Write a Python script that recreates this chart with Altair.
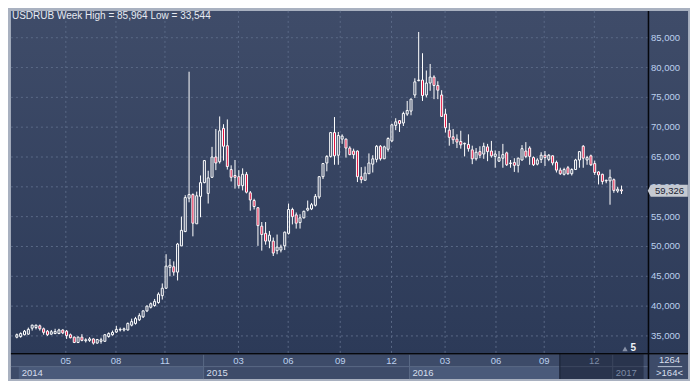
import altair as alt
import pandas as pd

# ---------------- data ----------------
opens = [34.78, 34.9, 35.2, 35.3, 36.3, 36.4, 36.7, 36.2, 35.8, 35.3,
         35.4, 35.4, 36.0, 35.8, 35.2, 34.8, 33.9, 34.8, 34.2, 34.25,
         34.5, 33.8, 34.1, 34.1, 34.9, 35.2, 35.65, 36.0, 36.0, 36.0,
         36.8, 37.1, 37.7, 38.2, 39.2, 39.8, 40.1, 40.6, 41.75, 43.0,
         46.5, 46.6, 45.7, 50.1, 52.5, 58.1, 58.7, 53.8, 58.4, 60.7,
         58.9, 61.6, 65.0, 64.2, 69.8, 66.9, 62.9, 61.9, 61.7, 60.2,
         62.1, 59.0, 57.7, 56.5, 53.4, 52.2, 50.9, 50.9, 49.3, 49.4,
         50.1, 52.2, 56.2, 55.3, 54.0, 54.8, 56.1, 56.3, 56.9, 58.3,
         61.7, 64.0, 65.1, 69.1, 65.3, 68.0, 68.0, 66.5, 66.0, 66.0,
         61.7, 61.1, 62.2, 63.8, 64.6, 66.8, 64.7, 66.3, 67.7, 70.3,
         71.1, 70.7, 72.2, 72.7, 75.4, 77.8, 77.9, 75.4, 77.4, 78.4,
         77.0, 75.4, 72.2, 69.5, 68.4, 68.0, 67.6, 67.2, 67.1, 66.2,
         64.7, 65.9, 65.5, 66.7, 66.0, 65.1, 64.3, 64.8, 65.7, 63.9,
         64.1, 63.6, 64.5, 66.0, 66.5, 64.9, 63.8, 64.6, 65.3, 64.6,
         65.2, 64.1, 62.8, 62.1, 63.2, 62.2, 62.9, 64.5, 66.8, 64.5,
         65.2, 63.9, 62.5, 62.1, 61.0, 61.0, 61.2, 59.3, 59.5]
highs = [35.4, 35.6, 36.0, 36.4, 36.9, 36.9, 36.9, 36.4, 36.0, 36.0,
         36.2, 36.2, 36.1, 36.0, 35.4, 34.9, 34.9, 35.3, 34.6, 34.8,
         34.6, 34.5, 34.7, 35.3, 35.6, 35.9, 36.7, 36.4, 36.4, 37.25,
         37.9, 38.2, 38.8, 39.3, 40.1, 40.6, 41.2, 42.3, 43.8, 48.7,
         47.9, 47.5, 50.6, 55.0, 58.6, 79.3, 58.9, 59.2, 61.9, 64.5,
         62.7, 66.7, 69.7, 71.8, 70.5, 71.3, 63.6, 64.5, 62.8, 63.1,
         62.5, 59.3, 58.0, 56.6, 54.1, 54.1, 52.6, 51.5, 52.0, 50.3,
         52.5, 57.2, 56.5, 55.7, 55.4, 56.0, 57.7, 57.3, 58.8, 61.8,
         64.0, 65.3, 69.2, 71.7, 69.2, 68.8, 68.1, 66.8, 66.4, 66.1,
         63.3, 63.4, 65.6, 65.3, 67.0, 67.0, 66.9, 68.3, 70.6, 71.5,
         71.2, 72.6, 74.4, 74.8, 78.2, 85.964, 82.4, 79.5, 80.6, 78.7,
         77.7, 76.2, 73.1, 70.7, 69.7, 68.8, 69.4, 67.4, 68.8, 66.9,
         66.5, 66.8, 67.4, 67.2, 67.7, 66.1, 66.0, 67.2, 65.9, 64.5,
         64.8, 64.9, 67.0, 67.5, 66.8, 65.1, 64.8, 65.8, 66.0, 65.5,
         65.3, 64.4, 63.2, 63.2, 63.5, 63.1, 64.7, 66.0, 67.0, 65.2,
         65.4, 64.4, 62.6, 62.2, 61.2, 62.9, 61.4, 60.0, 60.2]
lows = [34.6, 34.7, 35.1, 35.2, 35.9, 36.1, 35.9, 35.2, 35.0, 35.2,
        35.3, 35.3, 35.3, 34.5, 34.6, 33.8, 33.8, 34.1, 33.9, 34.0,
        33.544, 33.7, 33.7, 34.0, 34.7, 35.05, 35.5, 35.75, 35.75, 35.9,
        36.6, 36.9, 37.5, 38.0, 39.0, 39.6, 39.9, 40.4, 41.1, 42.9,
        45.0, 45.1, 44.3, 50.1, 52.4, 57.4, 51.7, 53.8, 54.9, 60.6,
        57.2, 61.5, 62.8, 63.9, 64.4, 62.9, 60.9, 59.7, 59.7, 59.4,
        58.9, 56.0, 56.2, 50.1, 49.3, 50.3, 49.7, 48.4, 48.7, 49.0,
        49.4, 52.0, 53.7, 53.0, 53.0, 54.7, 55.9, 56.1, 56.7, 58.0,
        61.3, 62.6, 64.9, 63.7, 63.7, 67.2, 64.9, 65.3, 64.7, 60.8,
        60.6, 61.1, 62.2, 62.4, 64.1, 64.4, 64.7, 65.9, 67.5, 69.5,
        69.2, 70.2, 71.9, 72.0, 74.9, 77.7, 74.4, 75.0, 76.1, 74.7,
        74.7, 71.7, 69.1, 66.9, 67.2, 66.5, 66.4, 65.1, 65.9, 63.8,
        64.4, 64.8, 64.7, 64.3, 64.9, 63.2, 64.2, 63.2, 63.5, 63.2,
        62.5, 62.4, 64.4, 64.8, 63.7, 63.5, 63.6, 64.0, 63.5, 64.3,
        63.6, 62.4, 62.0, 61.9, 62.0, 61.9, 62.9, 63.2, 63.2, 63.7,
        63.5, 62.0, 60.4, 60.4, 60.6, 57.0, 59.0, 59.0, 58.8]
closes = [35.21, 35.4, 35.8, 36.1, 36.8, 36.8, 36.2, 35.6, 35.2, 35.7,
          35.75, 36.0, 35.5, 35.05, 34.7, 33.9, 34.8, 34.25, 34.35, 34.5,
          33.8, 34.4, 34.35, 35.2, 35.4, 35.6, 36.1, 36.1, 36.2, 37.1,
          37.4, 37.9, 38.4, 39.2, 40.0, 40.4, 40.8, 42.0, 43.0, 46.7,
          46.85, 45.7, 50.4, 52.7, 58.2, 58.7, 53.9, 58.5, 60.7, 64.4,
          61.5, 65.0, 64.0, 69.4, 66.8, 63.4, 61.6, 61.6, 60.2, 62.1,
          59.1, 57.8, 56.7, 53.5, 52.0, 50.9, 51.9, 48.9, 49.9, 49.9,
          52.4, 56.2, 55.0, 53.9, 54.8, 55.9, 56.4, 57.0, 58.4, 61.7,
          63.9, 65.1, 69.1, 65.2, 68.6, 68.5, 66.5, 65.4, 65.4, 61.7,
          61.2, 62.3, 64.0, 64.7, 66.8, 64.7, 66.7, 68.1, 70.4, 70.9,
          70.6, 72.3, 72.8, 74.7, 77.6, 77.9, 75.3, 77.4, 78.4, 77.0,
          76.2, 71.8, 69.9, 68.3, 67.9, 67.5, 67.05, 67.3, 66.4, 64.7,
          65.8, 65.3, 66.8, 65.9, 65.2, 65.5, 64.9, 65.4, 63.7, 64.0,
          63.6, 64.8, 66.4, 65.1, 65.1, 63.7, 64.5, 65.3, 64.9, 65.3,
          64.0, 62.8, 62.2, 62.9, 62.2, 62.9, 64.5, 65.9, 64.8, 64.9,
          63.7, 62.4, 62.0, 60.9, 61.1, 61.6, 59.4, 59.6, 59.326]

# bar-index positions of the axis ticks (first bar of the month / year)
month_labels = ["05", "08", "11", "03", "06", "09", "12", "03", "06", "09", "12"]
month_ticks = [13.8, 26.9, 39.7, 58.9, 71.9, 85.5, 98.9, 112.9, 126.2, 138.8, 151.9]
year_labels = ["2014", "2015", "2016", "2017"]
year_starts = [1.5, 49.8, 103.6, 156.7]
price_ticks = [35, 40, 45, 50, 55, 60, 65, 70, 75, 80, 85]
symbol = "USDRUB"
period = "Week"
bar_count_total = "1264"
bar_count_visible = ">164<"
indicator_text = "5"

# ---------------- layout ----------------
W, H = 682, 373
SX, SY = W / 698.0, H / 389.0


def px(x):
    return round(x * SX, 2)


def py(y):
    return round(y * SY, 2)


BAR_STEP = 3.975          # reference pixels per bar
X0 = 1 - 4 / BAR_STEP
X1 = 1 + (698 - 4) / BAR_STEP
PLOT_END = 1 + (655 - 4) / BAR_STEP
NAV_START = 1 + (568 - 4) / BAR_STEP
PPU = 6.22                # reference pixels per rouble
Y1 = 85 + 31 / PPU
Y0 = 85 - (389 - 31) / PPU

xs = alt.Scale(domain=[X0, X1], nice=False, zero=False)
ys = alt.Scale(domain=[Y0, Y1], nice=False, zero=False)

FONT = "Liberation Sans"
LABEL = "#bcd0ee"
RED = "#e3123f"

df = pd.DataFrame({"i": list(range(1, len(opens) + 1)),
                   "o": opens, "h": highs, "l": lows, "c": closes})
one = pd.DataFrame({"a": [0]})


def fmt(v):
    return f"{v:.3f}".replace(".", ",")


title_text = f"{symbol} {period} High = {fmt(max(highs))} Low = {fmt(min(lows))}"

# background of plot + right panel
bg = alt.Chart(one).mark_rect(
    fill=alt.LinearGradient(gradient="linear",
                            stops=[alt.GradientStop(offset=0, color="#3f4c69"),
                                   alt.GradientStop(offset=1, color="#2c3a58")],
                            x1=0, x2=0, y1=0, y2=1)
).encode(x=alt.value(px(3)), x2=alt.value(px(696)), y=alt.value(py(3)), y2=alt.value(py(361)))

band = alt.Chart(one).mark_rect(color="#3d4b69").encode(
    x=alt.value(px(3)), x2=alt.value(px(696)), y=alt.value(py(361)), y2=alt.value(py(387)))

ends = year_starts[1:] + [PLOT_END]
ydf = pd.DataFrame({"s": year_starts, "e": ends, "lab": year_labels,
                    "light": [i % 2 == 0 for i in range(len(year_labels))]})
ydf.loc[ydf["lab"] == "2016", "e"] = NAV_START

year_boxes = alt.Chart(ydf).transform_filter("datum.light").mark_rect(color="#4a5a7a").encode(
    x=alt.X("s:Q", scale=xs, axis=None), x2="e:Q",
    y=alt.value(py(374)), y2=alt.value(py(387)))

row_sep = alt.Chart(one).mark_rule(color="#5a6985", strokeWidth=1).encode(
    x=alt.value(px(3)), x2=alt.value(px(655)), y=alt.value(py(374)))

year_sep = alt.Chart(ydf).transform_filter("datum.s > 5").mark_rule(color="#5a6985").encode(
    x=alt.X("s:Q", scale=xs, axis=None), y=alt.value(py(361)), y2=alt.value(py(387)))

nav = pd.DataFrame({"s": [NAV_START], "e": [PLOT_END]})
overlay = alt.Chart(nav).mark_rect(color="#0a1020", opacity=0.38).encode(
    x=alt.X("s:Q", scale=xs, axis=None), x2="e:Q",
    y=alt.value(py(361)), y2=alt.value(py(387)))
nav_line = alt.Chart(nav).mark_rule(color="#1c2438", strokeWidth=1.2).encode(
    x=alt.X("s:Q", scale=xs, axis=None), y=alt.value(py(361)), y2=alt.value(py(387)))

mdf = pd.DataFrame({"k": month_ticks, "lab": month_labels})
month_text = alt.Chart(mdf).mark_text(font=FONT, fontSize=9.5, baseline="middle").encode(
    x=alt.X("k:Q", scale=xs, axis=None), y=alt.value(py(368.5)), text="lab:N",
    color=alt.condition(f"datum.k > {NAV_START}", alt.value("#7d8ba6"), alt.value(LABEL)))

year_text = alt.Chart(ydf).mark_text(font=FONT, fontSize=9.5, baseline="middle", align="left", dx=3).encode(
    x=alt.X("s:Q", scale=xs, axis=None), y=alt.value(py(380.5)), text="lab:N",
    color=alt.condition(f"datum.s > {NAV_START}", alt.value("#7d8ba6"), alt.value("#d6deec")))

pdf = pd.DataFrame({"v": price_ticks})
hgrid = alt.Chart(pdf).mark_rule(color="#5a6986", strokeDash=[2, 3], strokeWidth=1).encode(
    y=alt.Y("v:Q", scale=ys, axis=None), x=alt.value(px(3)), x2=alt.value(px(655)))
vgrid = alt.Chart(mdf).mark_rule(color="#5a6986", strokeDash=[2, 3], strokeWidth=1).encode(
    x=alt.X("k:Q", scale=xs, axis=None), y=alt.value(py(3)), y2=alt.value(py(360)))

black_h = alt.Chart(one).mark_rule(color="#05070c", strokeWidth=1.5).encode(
    x=alt.value(px(3)), x2=alt.value(px(696)), y=alt.value(py(360.5)))
black_v = alt.Chart(one).mark_rule(color="#05070c", strokeWidth=1.5).encode(
    x=alt.value(px(655.5)), y=alt.value(py(3)), y2=alt.value(py(387)))

base = alt.Chart(df).transform_calculate(
    top="max(datum.o, datum.c)", bot="min(datum.o, datum.c)")
xenc = alt.X("i:Q", scale=xs, axis=None)
wick_up = base.mark_rule(color="white", strokeWidth=1).encode(
    x=xenc, y=alt.Y("h:Q", scale=ys, axis=None), y2="top:Q")
wick_dn = base.mark_rule(color="white", strokeWidth=1).encode(
    x=xenc, y=alt.Y("bot:Q", scale=ys, axis=None), y2="l:Q")
bodies = base.mark_bar(size=2, stroke="white", strokeWidth=1).encode(
    x=xenc, y=alt.Y("o:Q", scale=ys, axis=None), y2="c:Q",
    fill=alt.condition("datum.c < datum.o", alt.value(RED), alt.value("transparent")))

ylabels = alt.Chart(pdf).transform_calculate(
    lab="replace(format(datum.v, '.3f'), '.', ',')"
).mark_text(font=FONT, fontSize=9.5, align="left", baseline="middle", color=LABEL).encode(
    y=alt.Y("v:Q", scale=ys, axis=None), x=alt.value(px(658)), text="lab:N")

last = base.transform_filter(f"datum.i == {len(opens)}")
price_box = last.mark_point(
    shape="M-1.13,0L-0.97,-0.32L1,-0.32L1,0.32L-0.97,0.32Z",
    size=(px(38.5) ** 2) * 1.0, filled=True, fill="#c5c9d1", opacity=1, strokeWidth=0
).encode(x=alt.value(px(676.5)), y=alt.Y("c:Q", scale=ys, axis=None))
price_text = last.transform_calculate(
    lab="replace(format(datum.c, '.3f'), '.', ',')"
).mark_text(font=FONT, fontSize=9.5, align="center", baseline="middle", color="#1b2333").encode(
    x=alt.value(px(677)), y=alt.Y("c:Q", scale=ys, axis=None), text="lab:N")

title = alt.Chart(pd.DataFrame({"t": [title_text]})).mark_text(
    font=FONT, fontSize=10, align="left", baseline="middle", color="#e6eaf2").encode(
    x=alt.value(px(4)), y=alt.value(py(8.5)), text="t:N")

ind_tri = alt.Chart(one).mark_point(shape="triangle-up", filled=True, size=28,
                                    color="#8791a7", opacity=1).encode(
    x=alt.value(px(631.5)), y=alt.value(py(355.5)))
ind_txt = alt.Chart(pd.DataFrame({"t": [indicator_text]})).mark_text(
    font=FONT, fontSize=10, fontWeight="bold", align="left", baseline="middle", color="#f0f3f8").encode(
    x=alt.value(px(637)), y=alt.value(py(354.5)), text="t:N")

corner1 = alt.Chart(pd.DataFrame({"t": [bar_count_total]})).mark_text(
    font=FONT, fontSize=9.5, align="center", baseline="middle", color="#d6deec").encode(
    x=alt.value(px(677)), y=alt.value(py(367.5)), text="t:N")
corner_line = alt.Chart(one).mark_rule(color="#b8c2d4", strokeWidth=1).encode(
    x=alt.value(px(665)), x2=alt.value(px(690)), y=alt.value(py(374)))
corner2 = alt.Chart(pd.DataFrame({"t": [bar_count_visible]})).mark_text(
    font=FONT, fontSize=9.5, align="center", baseline="middle", color="#d6deec").encode(
    x=alt.value(px(677)), y=alt.value(py(380.5)), text="t:N")

chart = alt.layer(
    bg, band, year_boxes, row_sep, year_sep, overlay, nav_line,
    month_text, year_text, hgrid, vgrid, black_h, black_v,
    wick_up, wick_dn, bodies, ylabels, price_box, price_text,
    title, ind_tri, ind_txt, corner1, corner_line, corner2
).properties(
    width=W, height=H, padding=0, background="#a9b1c0",
    autosize=alt.AutoSizeParams(type="none")
).configure_view(stroke=None)

chart.save("out.html", embed_options={"renderer": "svg", "actions": False})
